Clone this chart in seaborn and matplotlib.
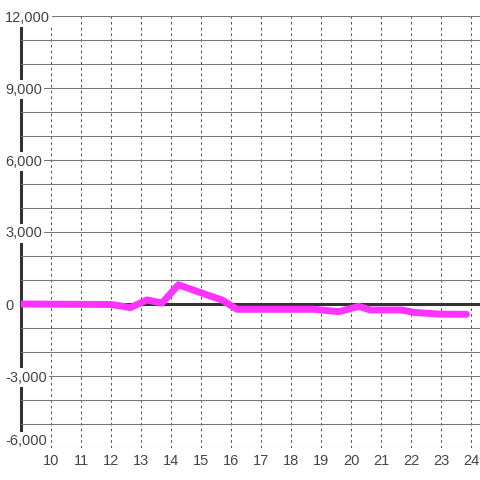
import matplotlib
matplotlib.use("Agg")
import matplotlib.pyplot as plt
import seaborn as sns
import pandas as pd

# data
hours  = [9.0, 12.0, 12.65, 13.2, 13.7, 14.25, 15.2, 15.7, 16.2, 18.75,
          19.6, 20.25, 20.65, 21.7, 22.1, 22.95, 23.85]
values = [0, -20, -150, 170, 40, 800, 380, 170, -220, -220,
          -320, -100, -250, -250, -350, -420, -430]

x_ticks = list(range(10, 25))
y_ticks = [-6000, -3000, 0, 3000, 6000, 9000, 12000]
y_labels = ["-6,000", "-3,000", "0", "3,000", "6,000", "9,000", "12,000"]
y_minor = list(range(-6000, 12001, 1000))

sns.set_style("white")
plt.rcParams["font.family"] = ["Liberation Sans", "DejaVu Sans"]

df = pd.DataFrame({"hour": hours, "value": values})

fig = plt.figure(figsize=(4.8, 4.8), dpi=100)
ax = fig.add_axes([21 / 480, 32 / 480, 459 / 480, 432 / 480])

sns.lineplot(data=df, x="hour", y="value", color="#ff33ff", linewidth=5.0,
             ax=ax, zorder=3)
ax.axhline(0, color="#333333", linewidth=2.2, zorder=1)

ax.set_xlim(9, 24.3)
ax.set_ylim(-6000, 12000)
ax.set_xticks(x_ticks)
ax.set_xticklabels([str(t) for t in x_ticks])
ax.set_yticks(y_ticks)
ax.set_yticklabels(y_labels)
ax.set_yticks(y_minor, minor=True)
ax.set_xlabel("")
ax.set_ylabel("")

ax.set_axisbelow(True)
ax.grid(True, axis="y", which="both", color="#777777", linewidth=0.75, linestyle="-")
ax.grid(True, axis="x", which="major", color="#555555", linewidth=0.75,
        linestyle=(0, (2.5, 3)))

ax.tick_params(axis="both", which="both", length=0, labelsize=10.5, labelcolor="#444444")
ax.tick_params(axis="x", pad=4.5)
ax.tick_params(axis="y", pad=11.5)
for lbl in ax.get_yticklabels():
    lbl.set_horizontalalignment("left")
    lbl.set_bbox(dict(facecolor="white", edgecolor="none", pad=1.5))
# bottom label sits above its gridline
ax.get_yticklabels()[0].set_verticalalignment("bottom")

for side in ["top", "right", "bottom"]:
    ax.spines[side].set_visible(False)
ax.spines["left"].set_color("#333333")
ax.spines["left"].set_linewidth(2.2)
ax.spines["left"].set_zorder(0.3)

fig.savefig("out.png", dpi=100)
